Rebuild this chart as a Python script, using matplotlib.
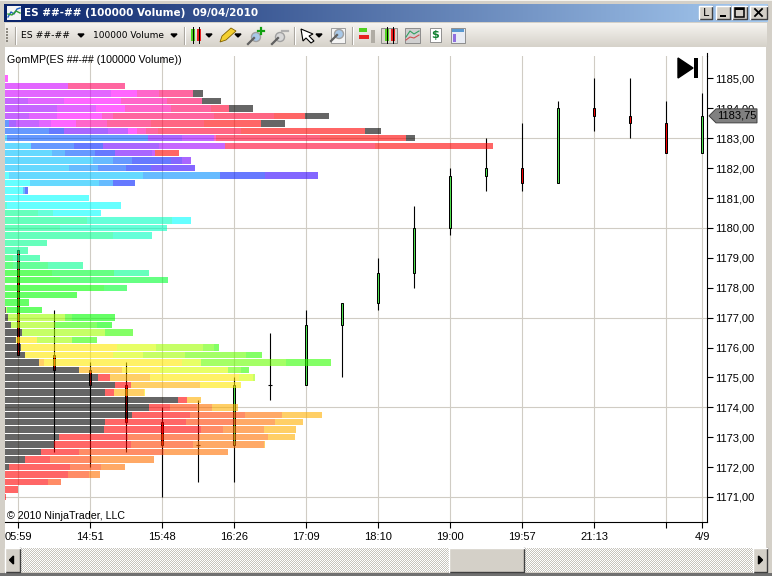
"""plot.py: NinjaTrader chart window with GomMP volume profile and candles"""
import matplotlib
matplotlib.use("Agg")
import matplotlib.pyplot as plt
import numpy as np
from matplotlib.patches import Polygon, Rectangle, Circle

W, H = 772, 576
PLOT_LEFT, PLOT_RIGHT, PLOT_TOP, PLOT_BOTTOM = 5, 707, 56, 522
BAR_ALPHA = 0.6
FONT = "Liberation Sans"

# candles, oldest first
OPENS = [1179.25, 1175.75, 1175.25, 1174.75, 1173.5, 1172.75, 1172.75, 1174.75, 1174.75, 1176.75,
         1177.5, 1178.5, 1180, 1181.75, 1182, 1181.5, 1184, 1183.75, 1183.5, 1182.5]
HIGHS = [1179.25, 1177.25, 1175.5, 1175.5, 1174, 1174.25, 1175, 1176.5, 1177.25, 1177.5,
         1179, 1180.75, 1182, 1183, 1183.5, 1184.25, 1185, 1185, 1184.25, 1184.5]
LOWS = [1175.75, 1172.5, 1172, 1172.5, 1171, 1171.5, 1171.5, 1174.25, 1174.75, 1175,
        1177.25, 1178, 1179.75, 1181.25, 1181.25, 1181.5, 1183.25, 1183, 1182.5, 1182.5]
CLOSES = [1175.75, 1175.25, 1174.75, 1173.5, 1172.75, 1172.75, 1174.75, 1174.75, 1176.75, 1177.5,
          1178.5, 1180, 1181.75, 1182, 1181.5, 1184, 1183.75, 1183.5, 1182.5, 1183.75]
LAST_PRICE = 1183.75

TIME_TICKS = [0, 2, 4, 6, 8, 10, 12, 14, 16, 18, 19]
TIME_LABELS = ["05:59", "14:51", "15:48", "16:26", "17:09", "18:10", "19:00", "19:57", "21:13", "", "4/9"]
GRID_PRICES = [1171, 1174, 1177, 1180, 1183]
PRICE_TICKS = [1171, 1172, 1173, 1174, 1175, 1176, 1177, 1178, 1179, 1180, 1181, 1182, 1183, 1184, 1185]
PRICE_LABELS = ["1171,00", "1172,00", "1173,00", "1174,00", "1175,00", "1176,00", "1177,00", "1178,00",
                "1179,00", "1180,00", "1181,00", "1182,00", "1183,00", "1184,00", "1185,00"]

PERIOD_COLORS = ["#000000", "#FF0000", "#FF4000", "#FF7000", "#FFB000", "#FFE800", "#D8FF00", "#A0FF00",
                 "#68FF00", "#30FF00", "#00FF00", "#00FF30", "#00FF55", "#00FF90", "#00FFC0", "#00FFFF",
                 "#00C0FF", "#008EFF", "#0055FF", "#0020FF", "#3000FF", "#7000FF", "#A000FF", "#D000FF",
                 "#FF00FF", "#FF00A8", "#FF0061", "#FF0030"]

# volume profile, one row per price level, top to bottom
ROW_PRICES = [1185, 1184.75, 1184.5, 1184.25, 1184, 1183.75, 1183.5, 1183.25, 1183, 1182.75,
              1182.5, 1182.25, 1182, 1181.75, 1181.5, 1181.25, 1181, 1180.75, 1180.5, 1180.25,
              1180, 1179.75, 1179.5, 1179.25, 1179, 1178.75, 1178.5, 1178.25, 1178, 1177.75,
              1177.5, 1177.25, 1177, 1176.75, 1176.5, 1176.25, 1176, 1175.75, 1175.5, 1175.25,
              1175, 1174.75, 1174.5, 1174.25, 1174, 1173.75, 1173.5, 1173.25, 1173, 1172.75,
              1172.5, 1172.25, 1172, 1171.75, 1171.5, 1171.25, 1171]
# running total of volume along each row at the end of each period segment
ROW_TOTALS = [
    [3], [63, 120], [106, 132, 154, 188, 198], [23, 59, 116, 162, 197, 216],
    [52, 91, 120, 166, 206, 224, 248], [24, 52, 97, 108, 209, 269, 300, 324],
    [4, 11, 34, 46, 71, 102, 146, 199, 256, 280], [44, 59, 103, 123, 132, 141, 153, 236, 360, 376],
    [2, 143, 177, 209, 211, 315, 401, 410], [26, 69, 98, 154, 220, 370, 488],
    [47, 60, 90, 110, 147, 150, 174], [88, 108, 127, 166, 177, 186], [64, 93, 121, 146, 190],
    [4, 138, 215, 260, 313], [25, 94, 108, 130], [18, 20, 23], [84], [2, 116], [33, 48, 96],
    [82, 167, 186], [55, 162], [108, 147], [42], [23], [8, 35], [8, 43, 78], [47, 109, 144],
    [55, 163], [99, 122], [72], [24], [1, 2, 37], [3, 60, 67, 110], [6, 50, 92, 107], [17, 100, 128],
    [11, 32, 67, 92], [16, 112, 151, 198, 209, 214], [20, 108, 138, 180, 241, 257],
    [34, 39, 177, 196, 281, 326], [74, 117, 155, 223, 236, 244], [93, 105, 145, 234, 248, 250],
    [110, 126, 195, 236], [100, 109, 139, 140], [173, 182, 196], [144, 165, 192, 207, 233],
    [127, 185, 240, 277, 317], [100, 181, 231, 270, 298], [99, 196, 218, 259, 291],
    [54, 123, 195, 263, 290], [49, 126, 188, 259, 260], [36, 74, 159, 223], [20, 45, 87, 149],
    [4, 65, 96, 120], [63, 84, 95], [43, 56], [13], [1],
]
ROW_PERIODS = [
    [24], [23, 26], [23, 24, 25, 26, 0], [22, 23, 24, 25, 26, 0],
    [22, 23, 24, 25, 26, 27, 0], [22, 23, 24, 25, 26, 27, 1, 0],
    [18, 21, 22, 23, 24, 25, 26, 27, 1, 0], [18, 19, 21, 22, 24, 25, 26, 27, 1, 0],
    [16, 18, 21, 22, 25, 27, 1, 0], [16, 18, 19, 21, 22, 27, 1],
    [16, 17, 18, 19, 21, 22, 1], [16, 17, 18, 19, 20, 21], [16, 17, 18, 19, 20],
    [15, 16, 17, 19, 20], [15, 16, 17, 19], [15, 17, 19], [15], [14, 15], [13, 14, 15],
    [13, 14, 15], [13, 14], [13, 14], [13], [13], [12, 13], [11, 12, 13], [10, 11, 13],
    [10, 11], [10, 11], [10], [10], [0, 7, 10], [0, 7, 9, 10], [0, 7, 9, 10], [0, 7, 9],
    [0, 5, 7, 9], [0, 5, 6, 7, 8, 9], [0, 5, 6, 7, 8, 9],
    [0, 4, 5, 6, 8, 9], [0, 4, 5, 6, 8, 9], [0, 1, 4, 5, 6, 7],
    [0, 1, 4, 5], [0, 1, 4, 5], [0, 1, 4], [0, 1, 2, 3, 4],
    [0, 1, 2, 3, 4], [0, 1, 2, 3, 4], [0, 1, 2, 3, 4],
    [0, 1, 2, 3, 4], [0, 1, 2, 3, 4], [0, 1, 2, 3], [0, 1, 2, 3],
    [0, 1, 2, 3], [1, 2, 3], [1, 2], [1], [1],
]


def pixel_axes(fig, zorder):
    """Axes covering the figure, in screenshot pixels."""
    a = fig.add_axes([0, 0, 1, 1], zorder=zorder)
    a.set_xlim(0, W)
    a.set_ylim(H, 0)
    a.axis("off")
    return a


def box(a, x0, y0, x1, y1, color, **kw):
    a.add_patch(Rectangle((x0, y0), x1 - x0, y1 - y0, facecolor=color, edgecolor="none", **kw))


def bevel_button(a, x0, y0, x1, y1):
    box(a, x0, y0, x1, y1, "#D4D0C8")
    a.plot([x0, x1, x1], [y1, y1, y0], color="#404040", lw=1)
    a.plot([x0, x0, x1], [y1, y0, y0], color="#FFFFFF", lw=1)


def small_arrow(a, x, y):
    a.add_patch(Polygon([(x - 3, y - 1.5), (x + 3, y - 1.5), (x, y + 1.5)], color="black"))


def candle_icon(a, x, y):
    for dx, c in zip((0, 6), ("#50D020", "#E82020")):
        a.plot([x + dx + 2, x + dx + 2], [y - 8, y + 8], color="black", lw=0.7)
        box(a, x + dx, y - 6, x + dx + 4, y + 6, c)


def lens(a, x, y, color):
    a.plot([x - 8, x - 2], [y + 7, y + 1], color="#606060", lw=1.6)
    a.add_patch(Circle((x, y), 4.5, facecolor=color, edgecolor="#A0A0A0", lw=1))


def draw_chrome(a):
    box(a, 0, 0, W, H, "#D4D0C8")
    box(a, 0, 0, W, 1, "#F5F3EE")
    grad = np.linspace(0, 1, 256)[None, :, None]
    title = (1 - grad) * np.array([10, 36, 106]) + grad * np.array([166, 202, 240])
    a.imshow(title / 255, extent=(4, 768, 22, 4), aspect="auto", zorder=1)
    bar = np.linspace(0, 1, 32)[:, None, None]
    tool = (1 - bar) * np.array([246, 244, 240]) + bar * np.array([214, 210, 202])
    a.imshow(tool / 255, extent=(5, 767, 47, 23), aspect="auto", zorder=1)
    a.set_xlim(0, W)
    a.set_ylim(H, 0)
    box(a, 5, 47, 766, 548, "white", zorder=1)
    # checkered scroll track
    yy, xx = np.indices((24, 733))
    track = np.where(((xx + yy) % 2 == 0)[..., None], [1.0, 1.0, 1.0], [0.78, 0.77, 0.74])
    a.imshow(track, extent=(20, 753, 572, 548), aspect="auto", zorder=1, interpolation="nearest")
    a.set_xlim(0, W)
    a.set_ylim(H, 0)
    box(a, 0, 573, W, H, "#707070", zorder=1)


def draw_title_bar(a):
    a.text(24, 13.5, "ES ##-## (100000 Volume)  09/04/2010", color="white", fontweight="bold",
           fontsize=7.45, family="DejaVu Sans", va="center", ha="left", zorder=3)
    # little chart icon
    box(a, 7, 6, 21, 20, "#F4F4F4", zorder=3)
    a.plot([8, 11, 14, 17, 20], [17, 12, 14, 9, 8], color="#2060C0", lw=1, zorder=4)
    a.plot([8, 12, 16, 20], [14, 15, 11, 13], color="#30A030", lw=1, zorder=4)
    # window buttons
    for x0, x1, glyph in ((699, 712, "L"), (716, 730, ""), (732, 747, ""), (750, 767, "")):
        bevel_button(a, x0, 6, x1, 19)
        if glyph:
            a.text((x0 + x1) / 2, 13, glyph, fontsize=8, family="DejaVu Sans", ha="center", va="center")
    box(a, 720, 15, 726, 17, "black", zorder=3)
    a.add_patch(Rectangle((735, 8), 9, 9, fill=False, edgecolor="black", lw=1.1, zorder=3))
    box(a, 735, 8, 744, 10, "black", zorder=3)
    a.plot([755, 762], [9, 16], color="black", lw=1.3, zorder=3)
    a.plot([755, 762], [16, 9], color="black", lw=1.3, zorder=3)


def draw_toolbar(a):
    for x in (15, 184, 294, 352):
        a.plot([x, x], [27, 44], color="#A8A49C", lw=0.8)
        a.plot([x + 1, x + 1], [27, 44], color="#FFFFFF", lw=0.8)
    for y in (28, 31, 34, 37, 40):
        box(a, 6, y, 8, y + 1.5, "#8C8880")
    a.text(21, 35.5, "ES ##-##", fontsize=6.7, family="DejaVu Sans", va="center")
    a.text(93, 35.5, "100000 Volume", fontsize=6.5, family="DejaVu Sans", va="center")
    for x in (81, 174, 209, 238, 319):
        small_arrow(a, x, 35.5)
    candle_icon(a, 191, 35)
    # pencil
    a.add_patch(Polygon([(220, 42), (222, 36), (231, 28), (236, 31), (226, 40)], facecolor="#F4D030",
                        edgecolor="#806000", lw=0.6))
    lens(a, 256, 37, "#A8C8E8")
    a.plot([258, 264], [31, 31], color="#10A010", lw=1.6)
    a.plot([261, 261], [28, 34], color="#10A010", lw=1.6)
    lens(a, 280, 37, "#D8D8D8")
    a.plot([282, 288], [31, 31], color="#B0B0B0", lw=1.6)
    # cursor
    a.add_patch(Polygon([(301, 29), (313, 34), (309, 36), (314, 41), (311, 43), (306, 38), (303, 41)],
                        facecolor="white", edgecolor="black", lw=0.8))
    a.add_patch(Rectangle((331, 28), 14, 15, facecolor="#F4F4F4", edgecolor="#909090", lw=0.6))
    lens(a, 339, 34, "#A8C8E8")
    # right hand icons
    box(a, 359, 28, 367, 32, "#50D020")
    box(a, 359, 35, 369, 39, "#E82020")
    box(a, 371, 30, 375, 43, "#B0ACA4")
    a.add_patch(Rectangle((381, 28), 16, 15, facecolor="#D8D4CC", edgecolor="#808080", lw=0.6))
    candle_icon(a, 385, 35)
    a.add_patch(Rectangle((405, 28), 15, 15, facecolor="#D0D0D0", edgecolor="#808080", lw=0.6))
    a.plot([406, 410, 414, 419], [37, 31, 34, 31], color="#30A060", lw=0.8)
    a.plot([406, 410, 414, 419], [40, 37, 38, 35], color="#D05050", lw=0.8)
    a.add_patch(Rectangle((430, 28), 11, 14, facecolor="white", edgecolor="#808080", lw=0.6))
    a.text(435.5, 35.5, "$", color="#108030", fontsize=8, fontweight="bold", family="DejaVu Sans",
           ha="center", va="center")
    a.add_patch(Rectangle((451, 28), 14, 15, facecolor="#E8ECF4", edgecolor="#808080", lw=0.6))
    box(a, 452, 29, 464, 32, "#5898D0")
    box(a, 453, 34, 456, 42, "#9070E0")


def draw_scrollbar(a):
    bevel_button(a, 5, 548, 20, 572)
    a.add_patch(Polygon([(13.5, 556), (13.5, 564), (9.5, 560)], color="black"))
    bevel_button(a, 449, 548, 524, 572)
    bevel_button(a, 753, 548, 767, 572)
    a.add_patch(Polygon([(758.5, 556), (758.5, 564), (762.5, 560)], color="black"))


def draw_candles(ax):
    x = np.arange(len(OPENS))
    ax.vlines(x, LOWS, HIGHS, color="black", lw=0.8, zorder=3)
    bottoms = np.minimum(OPENS, CLOSES)
    heights = np.abs(np.subtract(CLOSES, OPENS))
    colors = ["#F00000" if c < o else "#50E050" if c > o else "black" for o, c in zip(OPENS, CLOSES)]
    ax.bar(x, heights, bottom=bottoms, width=0.075, color=colors, edgecolor="black", lw=0.72, zorder=4)
    doji = [i for i, (o, c) in enumerate(zip(OPENS, CLOSES)) if o == c]
    ax.hlines([OPENS[i] for i in doji], [i - 0.05 for i in doji], [i + 0.05 for i in doji],
              color="black", lw=0.8, zorder=4)


def draw_profile(ax):
    for price, totals, periods in zip(ROW_PRICES, ROW_TOTALS, ROW_PERIODS):
        starts = [0] + totals[:-1]
        widths = np.subtract(totals, starts)
        colors = [PERIOD_COLORS[p] for p in periods]
        ax.barh([price] * len(totals), widths, left=starts, height=0.215, color=colors,
                alpha=BAR_ALPHA, linewidth=0)


if __name__ == "__main__":
    fig = plt.figure(figsize=(W / 100, H / 100), dpi=100)

    back = pixel_axes(fig, -2)
    draw_chrome(back)

    ax = fig.add_axes([PLOT_LEFT / W, 1 - PLOT_BOTTOM / H, (PLOT_RIGHT - PLOT_LEFT) / W,
                       (PLOT_BOTTOM - PLOT_TOP) / H], zorder=1)
    ax.patch.set_alpha(0)
    ax.set_xlim(-13 / 36, 689 / 36)
    ax.set_ylim(1185 - (PLOT_BOTTOM - 78.5) / 29.89, 1185 + (78.5 - PLOT_TOP) / 29.89)
    for name in ("left", "top"):
        ax.spines[name].set_visible(False)
    for name in ("right", "bottom"):
        ax.spines[name].set_linewidth(0.8)
    ax.yaxis.tick_right()
    ax.set_yticks(PRICE_TICKS, PRICE_LABELS, fontsize=8, family=FONT)
    ax.set_xticks(TIME_TICKS, TIME_LABELS, fontsize=8, family=FONT)
    ax.tick_params(length=4.3, width=0.8)
    ax.tick_params(axis="y", pad=1.4)
    ax.tick_params(axis="x", pad=2.8)
    for x in TIME_TICKS:
        ax.axvline(x, color="#D0CCC4", lw=0.8, zorder=1)
    for y in GRID_PRICES:
        ax.axhline(y, color="#D0CCC4", lw=0.8, zorder=1)
    draw_candles(ax)

    profile = ax.twiny()
    profile.set_xlim(0, PLOT_RIGHT - PLOT_LEFT)
    profile.patch.set_visible(False)
    profile.axis("off")
    draw_profile(profile)

    top = pixel_axes(fig, 5)
    draw_title_bar(top)
    draw_toolbar(top)
    draw_scrollbar(top)
    # axis stub above the plot, end-of-data marker, labels
    top.plot([PLOT_RIGHT, PLOT_RIGHT], [53, PLOT_TOP], color="black", lw=0.8)
    top.add_patch(Polygon([(678, 58), (693, 68), (678, 78)], color="black"))
    box(top, 694, 58, 698, 78, "black")
    top.text(7, 60, "GomMP(ES ##-## (100000 Volume))", fontsize=7.65, family=FONT, va="center")
    top.text(7, 516, "© 2010 NinjaTrader, LLC", fontsize=7.65, family=FONT, va="center")
    # last price tag
    tag_y = 78.5 + (1185 - LAST_PRICE) * 29.89
    top.add_patch(Polygon([(709, tag_y), (716, tag_y - 7), (757, tag_y - 7), (757, tag_y + 7), (716, tag_y + 7)],
                          facecolor="#808080", edgecolor="#404040", lw=0.7))
    top.text(717, tag_y, "1183,75", fontsize=8, family=FONT, va="center", color="black")

    fig.savefig("out.png", dpi=100)
